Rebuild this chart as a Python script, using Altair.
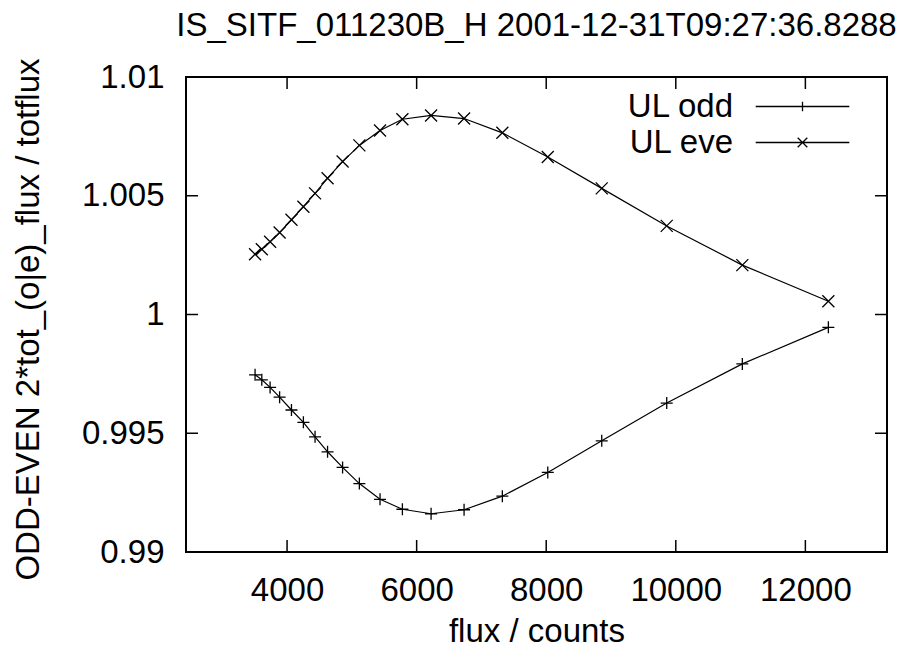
import altair as alt
import pandas as pd

# ---- data ----
flux = [3506, 3610, 3738, 3885, 4068, 4252, 4432, 4625, 4857, 5116,
        5435, 5780, 6223, 6732, 7323, 8024, 8857, 9860, 11027, 12355]
ul_odd = [0.99746, 0.99725, 0.99693, 0.99652, 0.99598, 0.99546, 0.99485, 0.99422, 0.99356, 0.99288,
          0.99222, 0.99180, 0.99161, 0.99178, 0.99235, 0.99335, 0.99468, 0.99627, 0.99792, 0.99946]
ul_eve = [1.00254, 1.00275, 1.00306, 1.00345, 1.00399, 1.00454, 1.00510, 1.00574, 1.00644, 1.00712,
          1.00775, 1.00822, 1.00838, 1.00825, 1.00765, 1.00663, 1.00531, 1.00373, 1.00208, 1.00056]
series_names = ["UL odd", "UL eve"]
x_ticks = [4000, 6000, 8000, 10000, 12000]
y_ticks = [0.99, 0.995, 1.0, 1.005, 1.01]

title = "IS_SITF_011230B_H 2001-12-31T09:27:36.8288"
x_title = "flux / counts"
y_title = "ODD-EVEN 2*tot_(o|e)_flux / totflux"

# ---- build table ----
rows = []
for f, v in zip(flux, ul_odd):
    rows.append({"flux": f, "value": v, "series": series_names[0]})
for f, v in zip(flux, ul_eve):
    rows.append({"flux": f, "value": v, "series": series_names[1]})
df = pd.DataFrame(rows)
xt = pd.DataFrame({"t": x_ticks})
yt = pd.DataFrame({"t": y_ticks})

W, H = 701, 475
FONT = "Liberation Sans"
TICK = 12

xscale = alt.Scale(domain=[2440, 13260], nice=False, zero=False)
yscale = alt.Scale(domain=[0.99, 1.01], nice=False, zero=False)

marker_paths = ["M-1,0L1,0M0,-1L0,1", "M-1,-1L1,1M-1,1L1,-1"]
legend_paths = ["M-7.8,0L7.8,0M0,-0.8L0,0.8",
                "M-7.8,0L7.8,0M-0.8,-0.8L0.8,0.8M-0.8,0.8L0.8,-0.8"]

X = alt.X("flux:Q", scale=xscale,
          axis=alt.Axis(values=x_ticks, format="d", title=x_title,
                        labelPadding=22, titleY=89, titleBaseline="alphabetic"))
Y = alt.Y("value:Q", scale=yscale,
          axis=alt.Axis(values=y_ticks, format="~g", title=y_title,
                        labelPadding=22, titleX=-158, titleY=242,
                        titleAngle=270, titleBaseline="middle", titleAlign="center"))

base = alt.Chart(df)

lines = base.mark_line(color="black", strokeWidth=1.2).encode(
    x=X, y=Y, detail="series:N")

points = base.mark_point(filled=False, color="black", strokeWidth=1.3, size=144, opacity=1).encode(
    x=X, y=Y,
    shape=alt.Shape("series:N", scale=alt.Scale(domain=series_names, range=marker_paths), legend=None))

legend_layer = base.mark_point(filled=False, color="black", strokeWidth=1.3, size=144).encode(
    x=X, y=Y,
    opacity=alt.value(0),
    shape=alt.Shape("series:N",
                    scale=alt.Scale(domain=series_names, range=legend_paths),
                    legend=alt.Legend(title=None, orient="none", legendX=438, legendY=13,
                                      padding=0, rowPadding=2, labelFont=FONT, labelFontSize=33,
                                      labelColor="black", labelAlign="right",
                                      labelOffset={"expr": "-86"},
                                      symbolOffset=162,
                                      labelBaseline="middle", symbolSize=144,
                                      symbolStrokeColor="black", symbolFillColor="transparent",
                                      symbolStrokeWidth=1.3, symbolOpacity=1,
                                      labelLimit=400)))

xt_bottom = alt.Chart(xt).mark_rule(color="black", strokeWidth=1.5).encode(
    x=alt.X("t:Q", scale=xscale), y=alt.value(H), y2=alt.value(H - TICK))
xt_top = alt.Chart(xt).mark_rule(color="black", strokeWidth=1.5).encode(
    x=alt.X("t:Q", scale=xscale), y=alt.value(0), y2=alt.value(TICK))
yt_left = alt.Chart(yt).mark_rule(color="black", strokeWidth=1.5).encode(
    y=alt.Y("t:Q", scale=yscale), x=alt.value(0), x2=alt.value(TICK))
yt_right = alt.Chart(yt).mark_rule(color="black", strokeWidth=1.5).encode(
    y=alt.Y("t:Q", scale=yscale), x=alt.value(W), x2=alt.value(W - TICK))

chart = alt.layer(lines, points, legend_layer, xt_bottom, xt_top, yt_left, yt_right).resolve_scale(
    shape="independent"
).properties(
    width=W, height=H,
    autosize=alt.AutoSizeParams(type="none"),
    padding={"left": 178, "top": 69, "right": 17, "bottom": 95},
    title=alt.TitleParams(title, anchor="middle", font=FONT, fontSize=33, fontWeight="normal",
                          color="black", offset=15),
    background="white",
).configure_view(
    stroke="black", strokeWidth=2
).configure_axis(
    domain=False, ticks=False, grid=False,
    labelFont=FONT, labelFontSize=33, labelColor="black",
    titleFont=FONT, titleFontSize=33, titleFontWeight="normal", titleColor="black",
)

chart.save("out.html", embed_options={"renderer": "svg", "actions": False})
